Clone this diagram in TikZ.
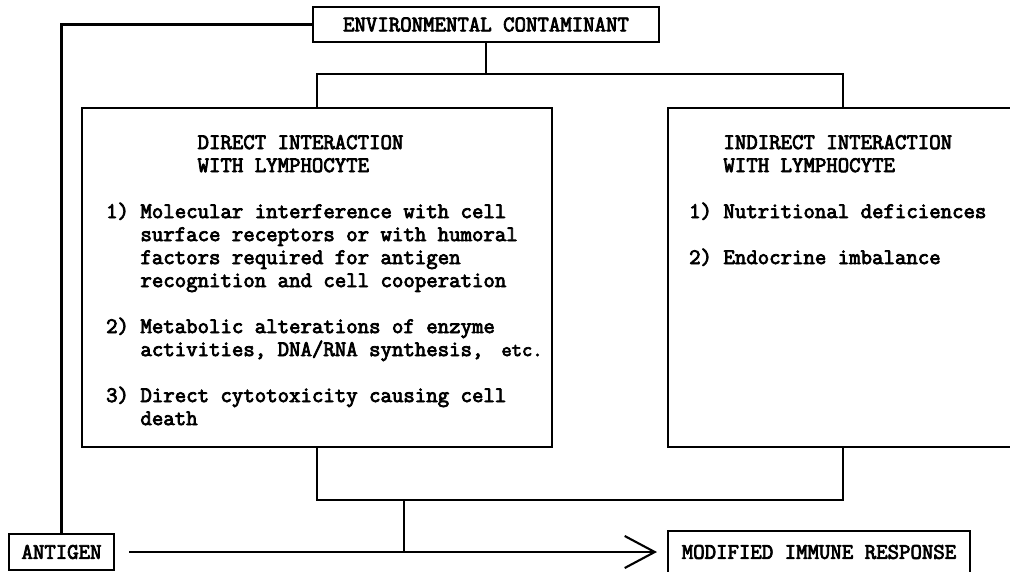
\documentclass[tikz,border=0pt]{standalone}
\usepackage{fontspec}
\newfontfamily\typewriter{Latin Modern Mono}[FakeBold=3.5]
\usetikzlibrary{arrows.meta,positioning}

\begin{document}
\begin{tikzpicture}[x=1pt,y=-1pt]
    \tikzset{box/.style= {draw, rectangle
    , line width=2.1pt
    , inner sep=0pt
      }
    , typed/.style={font=\typewriter\bfseries\fontsize{22.2}{23}\selectfont}
    , list/.style={typed, align=left, inner sep=0pt}
    , wire/.style={line width=2.1pt}
    }

\useasboundingbox (0,0) rectangle (1010,571);

% boxes
\node [box, typed, minimum width=346pt, minimum height=35pt] (env) at (486,24.5) {ENVIRONMENTAL CONTAMINANT};
\node [box, minimum width=470pt, minimum height=339pt] (direct) at (317,277.5) {};
\node [box, minimum width=350pt, minimum height=339pt] (indirect) at (843,277.5) {};
\node [box, typed, minimum width=105pt, minimum height=36pt] (antigen) at (61.5,552) {ANTIGEN};
\node [box, typed, minimum width=302pt, minimum height=42pt] (response) at (819,552) {MODIFIED IMMUNE RESPONSE};

% texts in the two big boxes
\node [list, below right=28pt and 25pt of direct.north west] (directtext) {%
\phantom{12345678}DIRECT INTERACTION\\
\phantom{12345678}WITH LYMPHOCYTE\\[23pt]
1) Molecular interference with cell\\
\phantom{1)~}surface receptors or with humoral\\
\phantom{1)~}factors required for antigen\\
\phantom{1)~}recognition and cell cooperation\\[23pt]
2) Metabolic alterations of enzyme\\
\phantom{1)~}activities, DNA/RNA synthesis,\hspace{18pt}{\mdseries\fontsize{20}{23}\selectfont etc.}\\[23pt]
3) Direct cytotoxicity causing cell\\
\phantom{1)~}death};
\node [list, below right=28pt and 22pt of indirect.north west] (indirecttext) {%
\phantom{123}INDIRECT INTERACTION\\
\phantom{123}WITH LYMPHOCYTE\\[23pt]
1) Nutritional deficiences\\[23pt]
2) Endocrine imbalance};

% connectors
\coordinate (split) at (env.south |- 0,74);
\coordinate (merge) at (404,500);
\coordinate (join) at (merge |- antigen.east);

\draw [wire] (env.south) -- (split);
\draw [wire] (direct.north) |- (split) -| (indirect.north);
\draw [wire] (env.west) -| (antigen.north);
\draw [wire] (direct.south) |- (merge) -| (indirect.south);
\draw [wire] (merge) -- (join);
\draw [wire, -{Straight Barb[length=30pt,width=32pt,line width=2.1pt]}, shorten <=14pt, shorten >=10pt]
  (antigen) -- (response);
\end{tikzpicture}
\end{document}
